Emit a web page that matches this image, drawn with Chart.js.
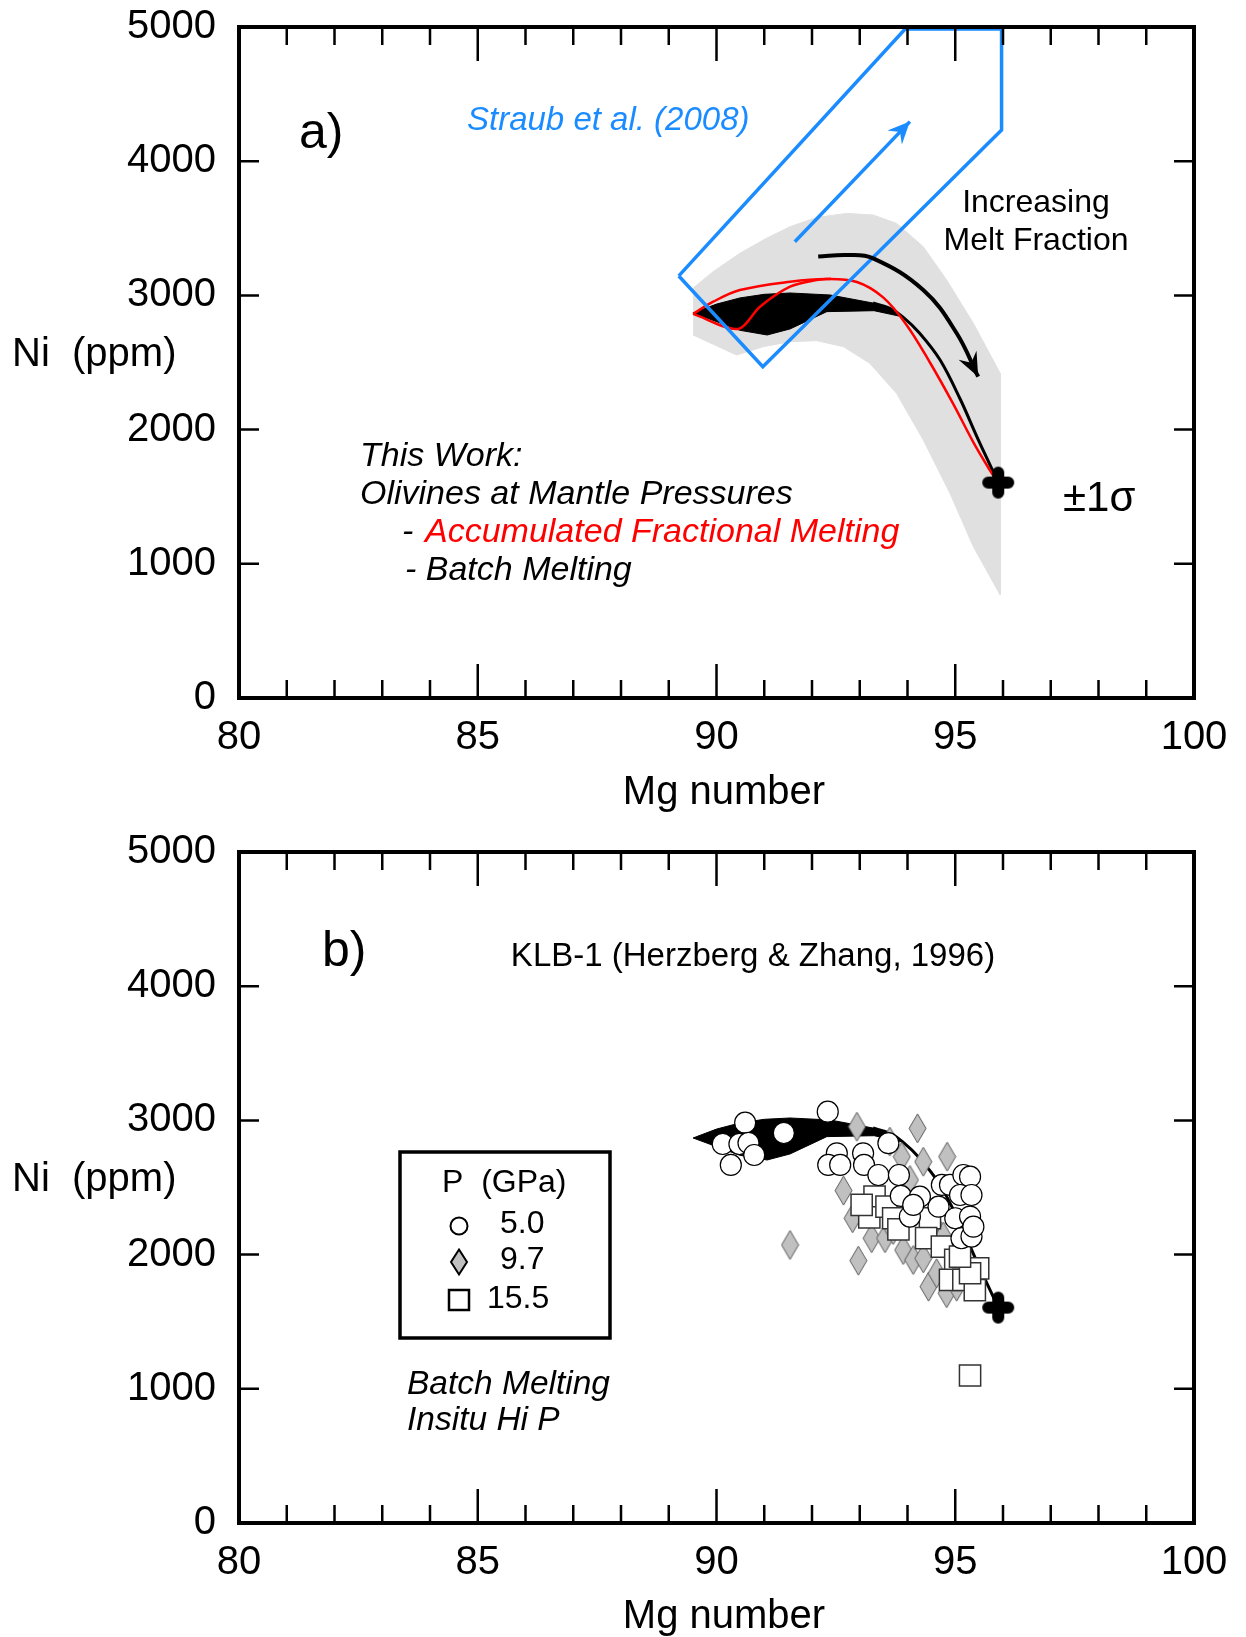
<!DOCTYPE html>
<html>
<head>
<meta charset="utf-8">
<script src="https://cdn.jsdelivr.net/npm/chart.js@4.4.1/dist/chart.umd.min.js"></script>
<style>
  html, body { margin: 0; padding: 0; background: #fff; }
  #wrap { position: relative; width: 1246px; height: 1637px; }
  canvas { position: absolute; left: 0; }
  #chartA { top: 0; }
  #chartB { top: 820px; }
</style>
</head>
<body>
<div id="wrap">
  <canvas id="chartA" width="1246" height="820"></canvas>
  <canvas id="chartB" width="1246" height="817"></canvas>
</div>
<script>
// ---- data (Mg number vs Ni ppm) ----

// +/- 1 sigma envelope (grey)
const greyUpperMg = [89.51, 89.93, 90.49, 91.05, 91.54, 92.10, 92.73, 93.28, 93.77, 94.33, 94.82, 95.38, 95.94];
const greyUpperNi = [3055, 3177, 3314, 3426, 3512, 3581, 3611, 3599, 3537, 3363, 3115, 2792, 2420];
const greyLowerMg = [95.94, 95.38, 94.89, 94.33, 93.77, 93.21, 92.66, 92.10, 91.54, 90.98, 90.42, 89.51];
const greyLowerNi = [768, 1127, 1525, 1923, 2270, 2494, 2618, 2663, 2655, 2618, 2556, 2705];

// batch melting band (black) + its continuation to the source
const batchUpperMg = [89.51, 90.00, 90.49, 91.00, 91.54, 92.38, 93.28, 93.62, 93.90];
const batchUpperNi = [2869, 2935, 2981, 3008, 3018, 3003, 2943, 2905, 2840];
const batchLowerMg = [93.90, 93.30, 92.31, 91.54, 91.06, 90.49, 89.51];
const batchLowerNi = [2840, 2886, 2879, 2750, 2705, 2740, 2869];
const batchLineMg = [93.28, 93.62, 93.90, 94.25, 94.68, 95.10, 95.45, 95.75, 95.90];
const batchLineNi = [2943, 2905, 2840, 2720, 2520, 2230, 1950, 1720, 1605];

// accumulated fractional melting (red)
const afmUpperMg = [89.51, 89.93, 90.49, 91.54, 92.31, 92.94, 93.49, 93.98, 94.47, 94.96, 95.38, 95.72, 95.90];
const afmUpperNi = [2862, 2953, 3040, 3102, 3122, 3100, 2985, 2780, 2500, 2190, 1905, 1700, 1600];
const afmLoopMg = [89.51, 90.45, 90.91, 91.54, 92.10, 92.40];
const afmLoopNi = [2862, 2750, 2916, 3065, 3115, 3124];

// Straub et al. (2008) field and arrow (blue)
const straubMg = [89.21, 90.97, 95.97, 95.97, 93.95, 89.21];
const straubNi = [3145, 2469, 4233, 4985, 4985, 3145];
const straubArrowMg = [91.64, 94.05];
const straubArrowNi = [3400, 4295];

// increasing melt fraction arrow
const meltArrowMg = [92.13, 92.73, 93.28, 94.33, 95.03, 95.48];
const meltArrowNi = [3289, 3301, 3276, 3040, 2718, 2394];

// source composition
const sourceMg = [95.90];
const sourceNi = [1605];

// KLB-1 experiments (Herzberg & Zhang, 1996)
const p50Mg = [90.60, 90.13, 90.48, 90.67, 90.79, 90.30, 91.41, 92.33, 92.52, 92.34, 92.59, 93.07, 93.09, 93.60, 93.39, 93.82,
  93.86, 94.05, 94.72, 94.89, 95.17, 95.31, 95.10, 95.34, 94.65, 95.00, 95.31, 95.13, 95.34, 94.26, 95.38, 94.12];
const p50Ni = [2983, 2824, 2824, 2832, 2742, 2668, 2906, 3065, 2755, 2668, 2668, 2755, 2668, 2830, 2593, 2593,
  2437, 2283, 2519, 2519, 2593, 2581, 2444, 2444, 2357, 2271, 2283, 2122, 2134, 2432, 2208, 2370];
const p97Mg = [92.94, 94.21, 93.63, 93.88, 94.33, 94.83, 92.66, 91.54, 92.85, 92.97, 93.25, 93.53, 93.91, 94.12, 94.33, 94.44,
  94.61, 94.82, 94.05, 94.54, 94.75, 95.03, 93.70];
const p97Ni = [2953, 2941, 2842, 2730, 2692, 2730, 2477, 2072, 2271, 1955, 2122, 2122, 2034, 1960, 1972, 1761,
  1861, 1712, 2556, 2233, 2134, 1761, 2183];
const p155Mg = [93.31, 93.20, 93.56, 93.70, 93.81, 94.47, 94.39, 94.72, 95.00, 94.89, 95.17, 95.41, 95.48, 95.31, 95.10, 93.04, 95.31];
const p155Ni = [2432, 2278, 2357, 2271, 2188, 2271, 2122, 2060, 1960, 1811, 1811, 1736, 1898, 1861, 1985, 2370, 1099];

// ---- helpers ----
const FONT = '"Liberation Sans", Arial, sans-serif';
const BLUE = '#1a8cff';
const GREY = '#e0e0e0';

function pts(xs, ys) {
  return xs.map((x, i) => ({ x: x, y: ys[i] }));
}

// filled "plus" used for the source point
const crossImg = document.createElement('canvas');
crossImg.width = 34; crossImg.height = 34;
(function () {
  const c = crossImg.getContext('2d');
  c.strokeStyle = '#000';
  c.lineWidth = 12;
  c.lineCap = 'round';
  c.beginPath();
  c.moveTo(7, 17); c.lineTo(27, 17);
  c.moveTo(17, 7); c.lineTo(17, 27);
  c.stroke();
})();

// tall grey diamond
const diamondImg = document.createElement('canvas');
diamondImg.width = 19; diamondImg.height = 31;
(function () {
  const c = diamondImg.getContext('2d');
  c.beginPath();
  c.moveTo(9.5, 1); c.lineTo(18, 15.5); c.lineTo(9.5, 30); c.lineTo(1, 15.5); c.closePath();
  c.fillStyle = '#c0c0c0';
  c.fill();
  c.strokeStyle = '#5a5a5a';
  c.lineWidth = 1;
  c.stroke();
})();

function axes(xHeight) {
  return {
    x: {
      type: 'linear', min: 80, max: 100,
      grid: { display: false, drawTicks: false },
      border: { display: false },
      ticks: { stepSize: 5, padding: 16, color: '#000', font: { family: FONT, size: 40 }, callback: v => String(v) },
      afterFit: s => { s.height = xHeight; s.paddingLeft = 0; s.paddingRight = 0; }
    },
    y: {
      type: 'linear', min: 0, max: 5000,
      grid: { display: false, drawTicks: false },
      border: { display: false },
      ticks: { stepSize: 1000, padding: 23, color: '#000', font: { family: FONT, size: 40 }, callback: v => String(v) },
      afterFit: s => { s.width = 239; s.paddingTop = 0; s.paddingBottom = 0; }
    }
  };
}

// box with inward ticks on all four sides
const framePlugin = {
  id: 'frame',
  afterDatasetsDraw(chart) {
    const ctx = chart.ctx, a = chart.chartArea;
    const x = chart.scales.x, y = chart.scales.y;
    ctx.save();
    ctx.strokeStyle = '#000';
    ctx.lineWidth = 2.5;
    ctx.beginPath();
    for (let v = x.min + 1; v < x.max; v++) {
      const px = x.getPixelForValue(v);
      const len = v % 5 === 0 ? 34 : 18;
      ctx.moveTo(px, a.bottom); ctx.lineTo(px, a.bottom - len);
      ctx.moveTo(px, a.top); ctx.lineTo(px, a.top + len);
    }
    for (let v = y.min + 1000; v < y.max; v += 1000) {
      const py = y.getPixelForValue(v);
      ctx.moveTo(a.left, py); ctx.lineTo(a.left + 20, py);
      ctx.moveTo(a.right, py); ctx.lineTo(a.right - 20, py);
    }
    ctx.stroke();
    ctx.lineWidth = 4;
    ctx.strokeRect(a.left, a.top, a.right - a.left, a.bottom - a.top);
    ctx.restore();
  }
};

// arrowheads at the end of datasets flagged with arrowHead
const arrowPlugin = {
  id: 'arrows',
  afterDatasetsDraw(chart) {
    const ctx = chart.ctx;
    chart.data.datasets.forEach((ds, i) => {
      if (!ds.arrowHead) return;
      const el = chart.getDatasetMeta(i).data;
      const p2 = el[el.length - 1], p1 = el[el.length - 2];
      let bx = p1.x, by = p1.y;
      if (p2.cp1x !== undefined && (p2.cp1x !== p2.x || p2.cp1y !== p2.y)) { bx = p2.cp1x; by = p2.cp1y; }
      let dx = p2.x - bx, dy = p2.y - by;
      const d = Math.hypot(dx, dy);
      dx /= d; dy /= d;
      const L = ds.arrowHead.len, W = ds.arrowHead.width;
      const nx = -dy, ny = dx;
      ctx.save();
      ctx.fillStyle = ds.borderColor;
      ctx.beginPath();
      ctx.moveTo(p2.x, p2.y);
      ctx.lineTo(p2.x - dx * L + nx * W / 2, p2.y - dy * L + ny * W / 2);
      ctx.lineTo(p2.x - dx * L * 0.65, p2.y - dy * L * 0.65);
      ctx.lineTo(p2.x - dx * L - nx * W / 2, p2.y - dy * L - ny * W / 2);
      ctx.closePath();
      ctx.fill();
      ctx.restore();
    });
  }
};

// free text and legend box drawn on top
const textPlugin = {
  id: 'notes',
  afterDraw(chart, args, opts) {
    const ctx = chart.ctx;
    ctx.save();
    ctx.textBaseline = 'middle';
    (opts.items || []).forEach(t => {
      ctx.font = (t.italic ? 'italic ' : '') + t.size + 'px ' + FONT;
      ctx.fillStyle = t.color || '#000';
      ctx.textAlign = t.align || 'left';
      ctx.fillText(t.text, t.x, t.y);
    });
    if (opts.legend) {
      const L = opts.legend;
      ctx.strokeStyle = '#000';
      ctx.lineWidth = 3.5;
      ctx.strokeRect(L.x, L.y, L.w, L.h);
      ctx.lineWidth = 2;
      // circle
      ctx.beginPath();
      ctx.arc(L.sx, L.rows[0], 8.5, 0, Math.PI * 2);
      ctx.fillStyle = '#fff'; ctx.fill(); ctx.stroke();
      // diamond
      ctx.beginPath();
      ctx.moveTo(L.sx, L.rows[1] - 12.5); ctx.lineTo(L.sx + 8, L.rows[1]);
      ctx.lineTo(L.sx, L.rows[1] + 12.5); ctx.lineTo(L.sx - 8, L.rows[1]); ctx.closePath();
      ctx.fillStyle = '#c0c0c0'; ctx.fill(); ctx.stroke();
      // square
      ctx.lineWidth = 2.5;
      ctx.fillStyle = '#fff';
      ctx.fillRect(L.sx - 10, L.rows[2] - 10, 20, 20);
      ctx.strokeRect(L.sx - 10, L.rows[2] - 10, 20, 20);
    }
    ctx.restore();
  }
};

function lineDs(data, color, width, order, tension) {
  return { data: data, showLine: true, borderColor: color, borderWidth: width, pointRadius: 0,
    fill: false, tension: tension || 0, order: order };
}
function shapeDs(data, color, order) {
  return { data: data, showLine: true, borderColor: color, borderWidth: 1, backgroundColor: color,
    pointRadius: 0, fill: 'shape', tension: 0, order: order };
}

const greyShape = pts(greyUpperMg.concat(greyLowerMg), greyUpperNi.concat(greyLowerNi));
const batchShape = pts(batchUpperMg.concat(batchLowerMg), batchUpperNi.concat(batchLowerNi));

function baseOptions(xHeight, top, items, legend) {
  return {
    responsive: false,
    animation: false,
    devicePixelRatio: 1,
    layout: { padding: { left: 0, right: 52, top: top, bottom: 0 } },
    scales: axes(xHeight),
    plugins: {
      legend: { display: false },
      tooltip: { enabled: false },
      notes: { items: items, legend: legend }
    }
  };
}

// ---- panel a ----
const itemsA = [
  { text: 'a)', x: 299, y: 134, size: 50 },
  { text: 'Straub et al. (2008)', x: 467, y: 121, size: 33, italic: true, color: BLUE },
  { text: 'Increasing', x: 1036, y: 203, size: 32, align: 'center' },
  { text: 'Melt Fraction', x: 1036, y: 241, size: 32, align: 'center' },
  { text: '±1σ', x: 1063, y: 499, size: 42 },
  { text: 'This Work:', x: 360, y: 457, size: 34, italic: true },
  { text: 'Olivines at Mantle Pressures', x: 360, y: 495, size: 34, italic: true },
  { text: '-', x: 402, y: 533, size: 34, italic: true },
  { text: 'Accumulated Fractional Melting', x: 425, y: 533, size: 34, italic: true, color: '#ff0000' },
  { text: '- Batch Melting', x: 405, y: 571, size: 34, italic: true },
  { text: 'Ni  (ppm)', x: 12, y: 355, size: 40 },
  { text: 'Mg number', x: 724, y: 793, size: 40, align: 'center' }
];

new Chart(document.getElementById('chartA'), {
  type: 'scatter',
  data: {
    datasets: [
      shapeDs(greyShape, GREY, 9),
      shapeDs(batchShape, '#000', 8),
      lineDs(pts(batchLineMg, batchLineNi), '#000', 3, 7, 0.35),
      lineDs(pts(afmUpperMg, afmUpperNi), '#ff0000', 2.5, 5, 0.35),
      lineDs(pts(afmLoopMg, afmLoopNi), '#ff0000', 2.5, 5, 0.3),
      lineDs(pts(straubMg, straubNi), BLUE, 3.5, 4, 0),
      Object.assign(lineDs(pts(straubArrowMg, straubArrowNi), BLUE, 3.5, 3, 0), { arrowHead: { len: 22, width: 20 } }),
      Object.assign(lineDs(pts(meltArrowMg, meltArrowNi), '#000', 4, 2, 0.4), { arrowHead: { len: 24, width: 20 } }),
      { data: pts(sourceMg, sourceNi), pointStyle: crossImg, pointRadius: 17, order: 0 }
    ]
  },
  options: baseOptions(122, 27, itemsA, null),
  plugins: [framePlugin, arrowPlugin, textPlugin]
});

// ---- panel b ----
const itemsB = [
  { text: 'b)', x: 322, y: 132, size: 50 },
  { text: 'KLB-1 (Herzberg & Zhang, 1996)', x: 753, y: 137, size: 33, align: 'center' },
  { text: 'P  (GPa)', x: 442, y: 363, size: 32 },
  { text: '5.0', x: 500, y: 404, size: 32 },
  { text: '9.7', x: 500, y: 440, size: 32 },
  { text: '15.5', x: 487, y: 479, size: 32 },
  { text: 'Batch Melting', x: 407, y: 565, size: 33.5, italic: true },
  { text: 'Insitu Hi P', x: 407, y: 601, size: 33.5, italic: true },
  { text: 'Ni  (ppm)', x: 12, y: 360, size: 40 },
  { text: 'Mg number', x: 724, y: 797, size: 40, align: 'center' }
];

new Chart(document.getElementById('chartB'), {
  type: 'scatter',
  data: {
    datasets: [
      shapeDs(batchShape, '#000', 6),
      lineDs(pts(batchLineMg, batchLineNi), '#000', 3, 5, 0.35),
      { data: pts(p97Mg, p97Ni), pointStyle: diamondImg, pointRadius: 15, order: 3 },
      { data: pts(p155Mg, p155Ni), pointStyle: 'rect', pointRadius: 15, backgroundColor: '#fff',
        borderColor: '#333', borderWidth: 1.5, order: 2 },
      { data: pts(p50Mg, p50Ni), pointStyle: 'circle', pointRadius: 10.5, backgroundColor: '#fff',
        borderColor: '#000', borderWidth: 1.2, order: 1 },
      { data: pts(sourceMg, sourceNi), pointStyle: crossImg, pointRadius: 17, order: 0 }
    ]
  },
  options: baseOptions(114, 32, itemsB, { x: 400, y: 332, w: 210, h: 186, sx: 459, rows: [406, 442, 480] }),
  plugins: [framePlugin, arrowPlugin, textPlugin]
});
</script>
</body>
</html>
